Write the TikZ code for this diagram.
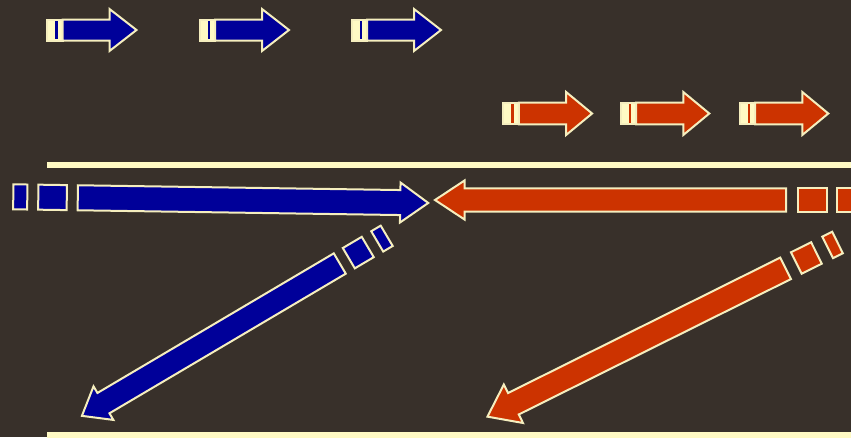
\documentclass[tikz,border=0pt]{standalone}
\usepackage{tikz}

\definecolor{bgbrown}{RGB}{56,48,42}
\definecolor{cream}{RGB}{255,250,196}
\definecolor{edgecream}{RGB}{245,238,190}
\definecolor{navyfill}{RGB}{0,0,153}
\definecolor{rustfill}{RGB}{204,51,0}

\tikzset{
  arrowpart/.style={draw=edgecream, line width=2pt, line join=miter},
  railbar/.style={fill=cream}
}

% Striped block arrow along +x, tail at the origin, tip at (L,0).
% #1 fill, #2 first block, #3 gap, #4 second block, #5 body start,
% #6 total length, #7 head length, #8 body half width, #9 head half width
\newcommand\stripedarrow[9]{%
  \path[arrowpart,fill=#1] (0,-#8) rectangle (#2,#8);
  \path[arrowpart,fill=#1] ({#2+#3},-#8) rectangle ({#2+#3+#4},#8);
  \path[arrowpart,fill=#1] (#5,-#8) -- ({#6-#7},-#8) -- ({#6-#7},-#9)
     -- (#6,0) -- ({#6-#7},#9) -- ({#6-#7},#8) -- (#5,#8) -- cycle;
}

% Small arrow with a cream tail band holding one thin stripe.
% #1 fill, #2 total length, #3 head length, #4 body half width, #5 head half width
\newcommand\smallstripedarrow[5]{%
  \path[arrowpart,fill=cream] (0,-#4) rectangle (15.5,#4);
  \fill[#1] (8,{-#4+1.4}) rectangle (10.8,{#4-1.4});
  \path[arrowpart,fill=#1] (15.5,-#4) -- ({#2-#3},-#4) -- ({#2-#3},-#5)
     -- (#2,0) -- ({#2-#3},#5) -- ({#2-#3},#4) -- (15.5,#4) -- cycle;
}

\begin{document}
\begin{tikzpicture}[x=1pt,y=-1pt]
  \useasboundingbox (0,0) rectangle (851,437);
  \clip (0,0) rectangle (851,437);
  \fill[bgbrown] (0,0) rectangle (851,437);

  % row of small blue arrows
  \foreach \sx in {47,199.5,351.5}{
    \begin{scope}[shift={(\sx,30)}]
      \smallstripedarrow{navyfill}{89.5}{27}{10.5}{21}
    \end{scope}
  }

  % row of small orange arrows
  \foreach \sx in {503.3,620.5,739.5}{
    \begin{scope}[shift={(\sx,113.5)}]
      \smallstripedarrow{rustfill}{88.8}{26}{10.8}{21.5}
    \end{scope}
  }

  % horizontal rails
  \fill[railbar] (46.7,162) rectangle (852,167.5);
  \fill[railbar] (46.7,431.7) rectangle (852,438);

  % long blue arrow pointing right
  \begin{scope}[shift={(13.3,196.8)},rotate=-0.85]
    \stripedarrow{navyfill}{14}{11}{28.5}{64.5}{415}{28}{12.5}{20}
  \end{scope}

  % long orange arrow pointing left
  \begin{scope}[shift={(852.7,200)},rotate=180]
    \stripedarrow{rustfill}{16}{10}{29}{66.7}{417.7}{29.5}{11.7}{19.5}
  \end{scope}

  % diagonal blue arrow
  \begin{scope}[shift={(386.7,235.8)},rotate=210.57]
    \stripedarrow{navyfill}{11}{11}{22}{54.5}{354}{25}{11.8}{19.5}
  \end{scope}

  % diagonal orange arrow
  \begin{scope}[shift={(837.5,242.5)},rotate=206.45]
    \stripedarrow{rustfill}{11}{12.5}{22.5}{58}{391}{29}{12}{21.5}
  \end{scope}
\end{tikzpicture}
\end{document}
